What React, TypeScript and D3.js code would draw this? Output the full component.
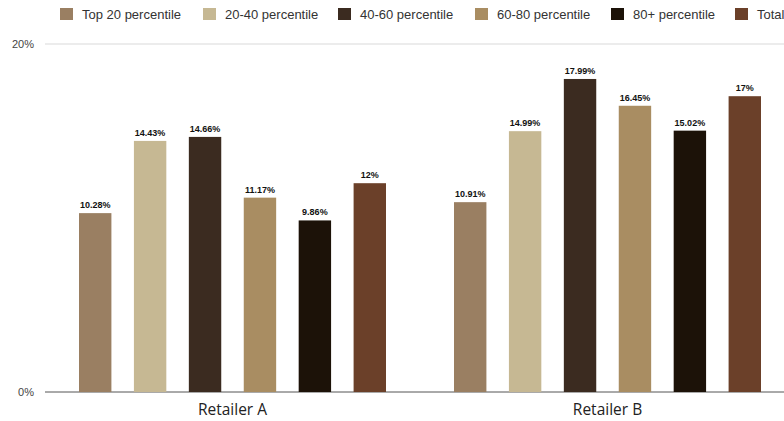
import React from "react";
import * as d3 from "d3";

const categories = ["Retailer A", "Retailer B"];
const seriesNames = ["Top 20 percentile", "20-40 percentile", "40-60 percentile", "60-80 percentile", "80+ percentile", "Total"];
const seriesColors = ["#9a7f62", "#c6b893", "#3b2b20", "#a98d62", "#1c1208", "#6b4029"];
const valuesA = [10.28, 14.43, 14.66, 11.17, 9.86, 12];
const valuesB = [10.91, 14.99, 17.99, 16.45, 15.02, 17];
const valueLabelsA = ["10.28%", "14.43%", "14.66%", "11.17%", "9.86%", "12%"];
const valueLabelsB = ["10.91%", "14.99%", "17.99%", "16.45%", "15.02%", "17%"];
const yTicks = [0, 20];
const legendX = [60, 203, 338, 475, 611, 735];

const W = 784;
const H = 421;

export default function App() {
  const x0 = d3.scaleBand<string>().domain(categories).range([45, 795]).paddingInner(0).paddingOuter(0);
  const x1 = d3.scaleBand<string>().domain(seriesNames).range([34, 341]).paddingInner(0.41).paddingOuter(0);
  const y = d3.scaleLinear().domain([0, 20]).range([392, 44]);
  const data = [valuesA, valuesB];
  const labels = [valueLabelsA, valueLabelsB];

  return (
    <svg width={W} height={H} style={{ position: "absolute", left: 0, top: 0, background: "#fff" }}>
      {seriesNames.map((s, i) => (
        <g key={s}>
          <rect x={legendX[i]} y={8} width={13} height={12} fill={seriesColors[i]} />
          <text x={legendX[i] + 22} y={19} fontFamily="Liberation Sans, Arial, sans-serif" fontSize={13} fill="#333">{s}</text>
        </g>
      ))}
      {yTicks.map((t) => (
        <g key={t}>
          <line x1={45} x2={W} y1={y(t)} y2={y(t)} stroke={t === 0 ? "#555" : "#d9d9d9"} strokeWidth={1} />
          <text x={34} y={y(t) + 4} textAnchor="end" fontFamily="Liberation Sans, Arial, sans-serif" fontSize={11} fill="#444">{t}%</text>
        </g>
      ))}
      {categories.map((c, ci) => (
        <g key={c} transform={`translate(${x0(c)},0)`}>
          {seriesNames.map((s, si) => {
            const v = data[ci][si];
            const bx = x1(s)!;
            return (
              <g key={s}>
                <rect x={bx} y={y(v)} width={x1.bandwidth()} height={y(0) - y(v)} fill={seriesColors[si]} />
                <text x={bx + x1.bandwidth() / 2} y={y(v) - 5} textAnchor="middle" fontFamily="Liberation Sans, Arial, sans-serif" fontWeight="bold" fontSize={9} fill="#111">{labels[ci][si]}</text>
              </g>
            );
          })}
          <text x={x0.bandwidth() / 2} y={415} textAnchor="middle" fontFamily="Open Sans, Lato, sans-serif" fontSize={15.5} fill="#222">{c}</text>
        </g>
      ))}
    </svg>
  );
}
